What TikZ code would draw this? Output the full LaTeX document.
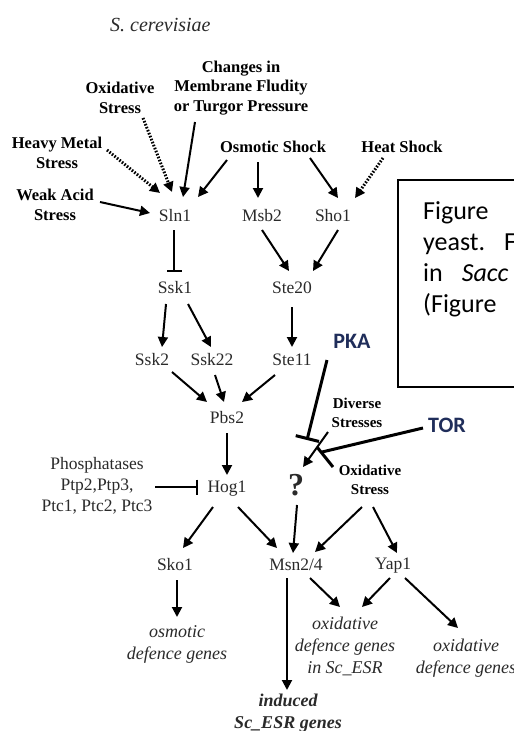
\documentclass[tikz,border=0pt]{standalone}
\usepackage{fontspec}
\setmainfont{Liberation Serif}
\newfontfamily\calfont{Carlito}
\usetikzlibrary{arrows.meta}
\definecolor{navy}{HTML}{1F2D5A}
\definecolor{txt}{HTML}{2A2A2A}
\tikzset{
  gene/.style={font=\fontsize{17.5}{20}\selectfont, text=txt, inner sep=0pt},
  stress/.style={font=\fontsize{16.5}{19.5}\selectfont\bfseries, align=center, inner sep=0pt},
  outg/.style={font=\fontsize{18}{22}\selectfont\itshape, text=txt, align=center, inner sep=0pt},
  arr/.style={line width=2pt, -{Triangle[length=10pt,width=10pt]}},
  dotarr/.style={line width=3pt, dash pattern=on 1.6pt off 1.6pt, -{Triangle[length=10pt,width=10pt]}},
  inh/.style={line width=2pt, -{Bar[width=15pt,line width=2pt]}},
  biginh/.style={line width=3pt, -{Bar[width=24pt,line width=3pt]}},
  kin/.style={font=\calfont\bfseries\fontsize{22}{26}\selectfont, text=navy, inner sep=0pt},
  boxtxt/.style={font=\calfont\fontsize{26}{30}\selectfont, anchor=base west, inner sep=0pt}
}
\begin{document}
\begin{tikzpicture}[x=1pt,y=-1pt]
\useasboundingbox (0,0) rectangle (514,731);
\clip (0,0) rectangle (514,731);
\fill[white] (0,0) rectangle (514,731);

% title
\node[font=\fontsize{20}{24}\selectfont\itshape, text=txt, anchor=west, inner sep=0pt] (title) at (110,25) {S. cerevisiae};

% stresses
\node[stress] (ox1) at (120,98) {Oxidative\\Stress};
\node[stress] (chg) at (241,88) {Changes in\\Membrane Fludity\\or Turgor Pressure};
\node[stress] (heavy) at (57,153) {Heavy Metal\\Stress};
\node[stress] (weak) at (55,205) {Weak Acid\\Stress};
\node[stress] (osm) at (273,147) {Osmotic Shock};
\node[stress] (heat) at (402,147) {Heat Shock};

% genes
\node[gene] (sln1) at (175,216) {Sln1};
\node[gene] (msb2) at (262,216) {Msb2};
\node[gene] (sho1) at (333,216) {Sho1};
\node[gene] (ssk1) at (175,288) {Ssk1};
\node[gene] (ste20) at (292,288) {Ste20};
\node[gene] (ssk2) at (152,360) {Ssk2};
\node[gene] (ssk22) at (212,360) {Ssk22};
\node[gene] (ste11) at (292,360) {Ste11};
\node[gene] (pbs2) at (227,418) {Pbs2};
\node[gene] (hog1) at (227,489) {Hog1};
\node[gene, align=center, font=\fontsize{17.5}{21}\selectfont] (phos) at (97,486) {Phosphatases\\Ptp2,Ptp3,\\Ptc1, Ptc2, Ptc3};
\node[kin] (pka) at (352,341) {PKA};
\node[stress, font=\fontsize{15}{19.5}\selectfont\bfseries] (div) at (357,413) {Diverse\\Stresses};
\node[kin] (tor) at (447,425) {TOR};
\node[font=\fontsize{32}{34}\selectfont\bfseries, text=txt, inner sep=0pt] (q) at (296,485) {?};
\node[stress, font=\fontsize{15}{19.5}\selectfont\bfseries] (ox2) at (370,480) {Oxidative\\Stress};
\node[gene] (sko1) at (175,565) {Sko1};
\node[gene] (msn) at (296,565) {Msn2/4};
\node[gene] (yap1) at (393,566) {Yap1};

% outputs
\node[outg] (osmg) at (177,644) {osmotic\\defence genes};
\node[outg] (oxg1) at (345,646) {oxidative\\defence genes\\in Sc\_ESR};
\node[outg, font=\fontsize{18}{22}\selectfont\bfseries\itshape] (ind) at (288,713) {induced\\Sc\_ESR genes};
\node[outg] (oxg2) at (466,658) {oxidative\\defence genes};

% figure caption box (cut at right edge)
\coordinate (boxtl) at (398,180);
\coordinate (boxbr) at (540,387);
\draw[line width=1.4pt] (boxtl) rectangle (boxbr);
\node[boxtxt] (cap1) at (423,219) {Figure};
\node[boxtxt] (cap2) at (423,250) {yeast.\hspace{19pt}F};
\node[boxtxt] (cap3) at (423,281) {in\hspace{19pt}\textit{Sacc}};
\node[boxtxt] (cap4) at (423,312) {(Figure};

% connectors into Sln1
\draw[dotarr] ([shift={(23,20)}]ox1.center) -- ([shift={(-3,-24)}]sln1.center);
\draw[arr] ([shift={(-46,34)}]chg.center) -- ([shift={(8,-19)}]sln1.center);
\draw[dotarr] ([shift={(50,-3)}]heavy.center) -- ([shift={(-15,-23)}]sln1.center);
\draw[arr] ([shift={(-46,13)}]osm.center) -- ([shift={(23,-19)}]sln1.center);
\draw[arr] ([shift={(45,-3)}]weak.center) -- ([shift={(-25,-3)}]sln1.center);
\draw[arr] ([shift={(-15,15)}]osm.center) -- ([shift={(-4,-18)}]msb2.center);
\draw[arr] ([shift={(37,11)}]osm.center) -- ([shift={(5,-18)}]sho1.center);
\draw[dotarr] ([shift={(-19,11)}]heat.center) -- ([shift={(22,-18)}]sho1.center);

% MAPK cascade
\draw[inh] ([shift={(-1,14)}]sln1.center) -- ([shift={(-1,-16)}]ssk1.center);
\draw[arr] ([shift={(0,14)}]msb2.center) -- ([shift={(-3,-17)}]ste20.center);
\draw[arr] ([shift={(5,14)}]sho1.center) -- ([shift={(21,-17)}]ste20.center);
\draw[arr] ([shift={(-9,16)}]ssk1.center) -- ([shift={(10,-13)}]ssk2.center);
\draw[arr] ([shift={(13,16)}]ssk1.center) -- ([shift={(-1,-13)}]ssk22.center);
\draw[arr] ([shift={(0,19)}]ste20.center) -- ([shift={(0,-13)}]ste11.center);
\draw[arr] ([shift={(20,12)}]ssk2.center) -- ([shift={(-20,-16)}]pbs2.center);
\draw[arr] ([shift={(3,15)}]ssk22.center) -- ([shift={(-3,-16)}]pbs2.center);
\draw[arr] ([shift={(-17,15)}]ste11.center) -- ([shift={(15,-16)}]pbs2.center);
\draw[arr] ([shift={(0,15)}]pbs2.center) -- ([shift={(0,-14)}]hog1.center);
\draw[inh] ([shift={(58,1)}]phos.center) -- ([shift={(-29,-2)}]hog1.center);
\draw[arr] ([shift={(-14,18)}]hog1.center) -- ([shift={(8,-17)}]sko1.center);
\draw[arr] ([shift={(11,18)}]hog1.center) -- ([shift={(-19,-17)}]msn.center);

% regulation of ?
\coordinate (pkaend) at ([shift={(11,-45)}]q.center);
\coordinate (torend) at ([shift={(26,-33)}]q.center);
\draw[biginh] ([shift={(-25,19)}]pka.center) -- (pkaend);
\draw[line width=3pt] ([shift={(-24,3)}]tor.center) -- (torend);
\draw[line width=3pt] ([shift={(-5,-5)}]torend) -- ([shift={(11,15)}]torend);
\draw[arr] ([shift={(-29,19)}]div.center) -- ([shift={(7,-18)}]q.center);
\draw[arr] ([shift={(1,20)}]q.center) -- ([shift={(-3,-12)}]msn.center);
\draw[arr] ([shift={(-8,27)}]ox2.center) -- ([shift={(19,-13)}]msn.center);
\draw[arr] ([shift={(3,27)}]ox2.center) -- ([shift={(4,-13)}]yap1.center);

% outputs
\draw[arr] ([shift={(2,15)}]sko1.center) -- ([shift={(0,-27)}]osmg.center);
\draw[arr] ([shift={(-9,13)}]msn.center) -- ([shift={(-1,-23)}]ind.center);
\draw[arr] ([shift={(14,13)}]msn.center) -- ([shift={(-5,-39)}]oxg1.center);
\draw[arr] ([shift={(-3,12)}]yap1.center) -- ([shift={(17,-39)}]oxg1.center);
\draw[arr] ([shift={(12,12)}]yap1.center) -- ([shift={(-8,-30)}]oxg2.center);
\end{tikzpicture}
\end{document}
